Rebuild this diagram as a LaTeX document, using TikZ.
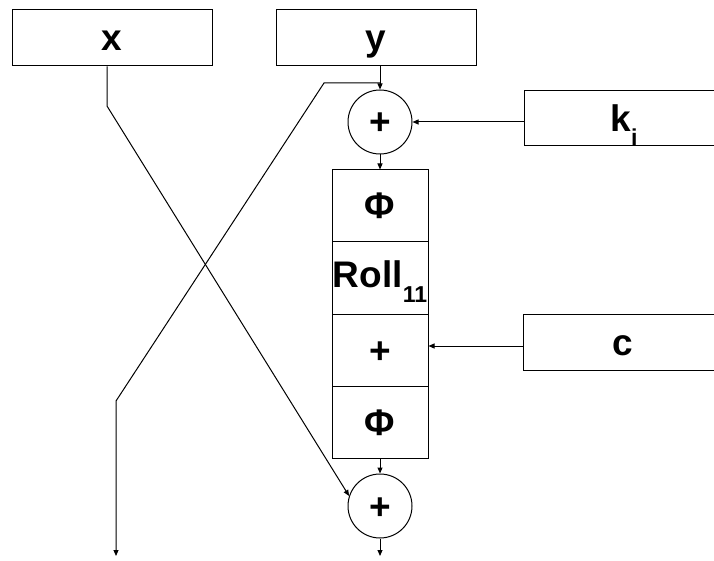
\documentclass[tikz,border=0pt]{standalone}
\usepackage{fontspec}
\setmainfont{Liberation Sans}
\usetikzlibrary{arrows.meta,calc}

\newcommand{\lowsub}[2][15pt]{\raisebox{-#1}{\fontsize{23}{25}\selectfont #2}}

\begin{document}
\begin{tikzpicture}[x=1pt,y=-1pt,
  line width=1pt,
  every node/.style={font=\fontsize{37}{40}\selectfont\bfseries,
    text height=26pt, text depth=0pt, inner sep=0pt},
  inbox/.style={draw, rectangle, minimum width=200pt, minimum height=56pt},
  cell/.style={draw, rectangle, minimum width=96pt, minimum height=72pt},
  xorop/.style={draw, circle, minimum size=64pt},
  flow/.style={-{Triangle[length=6pt,width=5pt]}},
  wire/.style={line width=0.8pt}]
\useasboundingbox (0,0) rectangle (714,561);

% inputs and constants
\node[inbox] (xb) at (112,38) {x};
\node[inbox] (yb) at (376,38) {y};
\node[inbox, minimum height=55pt] (kb) at (624,118.5) {k\lowsub[14pt]{i}};
\node[inbox] (cb) at (623,342) {c};

% round function
\node[xorop] (tc) at (380,122) {+};
\node[cell] (phi1) at (380,206) {Φ};
\node[cell, text depth=8pt] (roll) at (380,278) {Roll\lowsub{11}};
\node[cell] (addc) at (380,350) {+};
\node[cell] (phi2) at (380,422) {Φ};
\node[xorop] (bc) at (380,506) {+};

% bends and outputs
\coordinate (ysplit) at (380,83);
\coordinate (ybend) at (324,83);
\coordinate (ylow) at (116,401);
\coordinate (outL) at (116,556);
\coordinate (outR) at (380,556);
\coordinate (xtop) at ($(xb.south)+(-5,0)$);
\coordinate (xbend) at (107,106);
\coordinate (cin) at ($(cb.west)+(0,4)$);

% data path
\draw[flow] (tc.north |- yb.south) -- (tc.north);
\draw[flow] (ysplit) -- (ybend) -- (ylow) -- (outL);
\draw[flow] (kb.west |- tc.east) -- (tc.east);
\draw[flow] (tc.south) -- (phi1.north);
\draw[flow] (cin) -- (cin -| addc.east);
\draw[flow] (phi2.south) -- (bc.north);
\draw[flow] (xtop) -- (xbend) -- (bc.162);
\draw[flow] (bc.south) -- (outR);
\end{tikzpicture}
\end{document}
